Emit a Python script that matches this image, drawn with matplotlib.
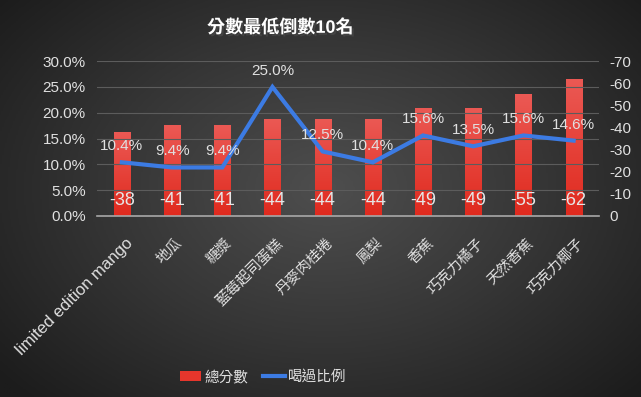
import numpy as np
import matplotlib
matplotlib.use('Agg')
import matplotlib.pyplot as plt
import matplotlib.patheffects as pe
import matplotlib.transforms as mtrans
from matplotlib.patches import Patch
from matplotlib.lines import Line2D

plt.rcParams['font.family'] = ['Liberation Sans', 'Noto Sans CJK TC']

categories = ['limited edition mango', '地瓜', '糖漿', '藍莓起司蛋糕', '丹麥肉桂捲',
              '鳳梨', '香蕉', '巧克力橘子', '天然香蕉', '巧克力椰子']
total_score = [-38, -41, -41, -44, -44, -44, -49, -49, -55, -62]
drink_ratio = [10.4, 9.4, 9.4, 25.0, 12.5, 10.4, 15.6, 13.5, 15.6, 14.6]

fig = plt.figure(figsize=(6.41, 3.97), dpi=100)

# radial dark background
bg = fig.add_axes([0, 0, 1, 1], zorder=-10)
yy, xx = np.mgrid[-1:1:300j, -1:1:400j]
r = np.sqrt(((xx - 0.02) * 0.9) ** 2 + ((yy + 0.05) * 0.8) ** 2)
bg.imshow(r, cmap=matplotlib.colors.LinearSegmentedColormap.from_list(
    'bg', ['#4e4e4e', '#363636', '#1c1c1c']), vmin=0, vmax=1.2,
    aspect='auto', extent=[0, 1, 0, 1])
bg.axis('off')

ax = fig.add_axes([0.151, 0.456, 0.783, 0.39])
ax.patch.set_alpha(0)
x = np.arange(len(categories))

# right axis: scores (inverted), bars
ax2 = ax.twinx()
ax2.set_ylim(0, -70)
bars = ax2.bar(x, total_score, width=0.32, color='#e8362c', zorder=2)
grad = np.linspace(0, 1, 100).reshape(-1, 1)
red_cmap = matplotlib.colors.LinearSegmentedColormap.from_list('red', ['#e02a1e', '#eb5954'])
for b, v in zip(bars, total_score):
    im = ax2.imshow(grad, cmap=red_cmap, aspect='auto', origin='lower',
                    extent=[b.get_x(), b.get_x() + b.get_width(), 0, v], zorder=2)
    im.set_clip_path(b)
    ax2.text(b.get_x() + b.get_width() / 2, -6.8, str(v), ha='center', va='center',
             color='#e6e6e6', fontsize=13, zorder=5)
ax2.set_xlim(-0.5, 9.5)
ax2.set_yticks(range(0, -71, -10))
ax2.set_yticklabels(['0'] + [str(v) for v in range(-10, -71, -10)])

# left axis: ratio line
ax.set_ylim(0, 30)
ax.set_xlim(-0.5, 9.5)
ax.set_yticks(range(0, 31, 5))
ax.set_yticklabels(['%.1f%%' % v for v in range(0, 31, 5)])
ax.grid(axis='y', color='#5c5c5c', linewidth=0.8)
ax.set_axisbelow(True)
ax.set_zorder(ax2.get_zorder() + 1)
ax.plot(x, drink_ratio, color='#3c7be3', linewidth=3, solid_joinstyle='miter', zorder=4)
for xi, v in zip(x, drink_ratio):
    ax.text(xi, v + 3.1, '%.1f%%' % v, ha='center', va='center',
            color='#e0e0e0', fontsize=11, zorder=5)

for a in (ax, ax2):
    for s in a.spines.values():
        s.set_visible(False)
    a.tick_params(length=0, colors='#e0e0e0', labelsize=11)
ax.spines['bottom'].set_visible(True)
ax.spines['bottom'].set_color('#a8a8a8')
ax.spines['bottom'].set_linewidth(1.2)
ax.tick_params(axis='y', pad=8)
ax2.tick_params(axis='y', pad=8)

ax.set_xticks(x)
ax.set_xticklabels(categories, rotation=45, ha='right', va='top',
                   rotation_mode='anchor', color='#e0e0e0')
offset = mtrans.ScaledTranslation(3 / 100, -15 / 100, fig.dpi_scale_trans)
for i, lbl in enumerate(ax.get_xticklabels()):
    lbl.set_transform(lbl.get_transform() + offset)
    lbl.set_fontsize(12 if i == 0 else 10.5)

fig.text(0.437, 0.93, '分數最低倒數10名', ha='center', va='center', color='white',
         fontsize=13, fontweight='bold',
         path_effects=[pe.withSimplePatchShadow(offset=(1.5, -1.5), alpha=0.6)])

handles = [Patch(facecolor='#e6362c', edgecolor='none'),
           Line2D([0], [0], color='#3c7be3', linewidth=3)]
fig.legend(handles, ['總分數', '喝過比例'], loc='center', bbox_to_anchor=(0.41, 0.05),
           ncol=2, frameon=False, fontsize=10.5, labelcolor='#e0e0e0',
           handlelength=1.5, handletextpad=0.2, columnspacing=1.0)

fig.savefig('out.png', dpi=100)
